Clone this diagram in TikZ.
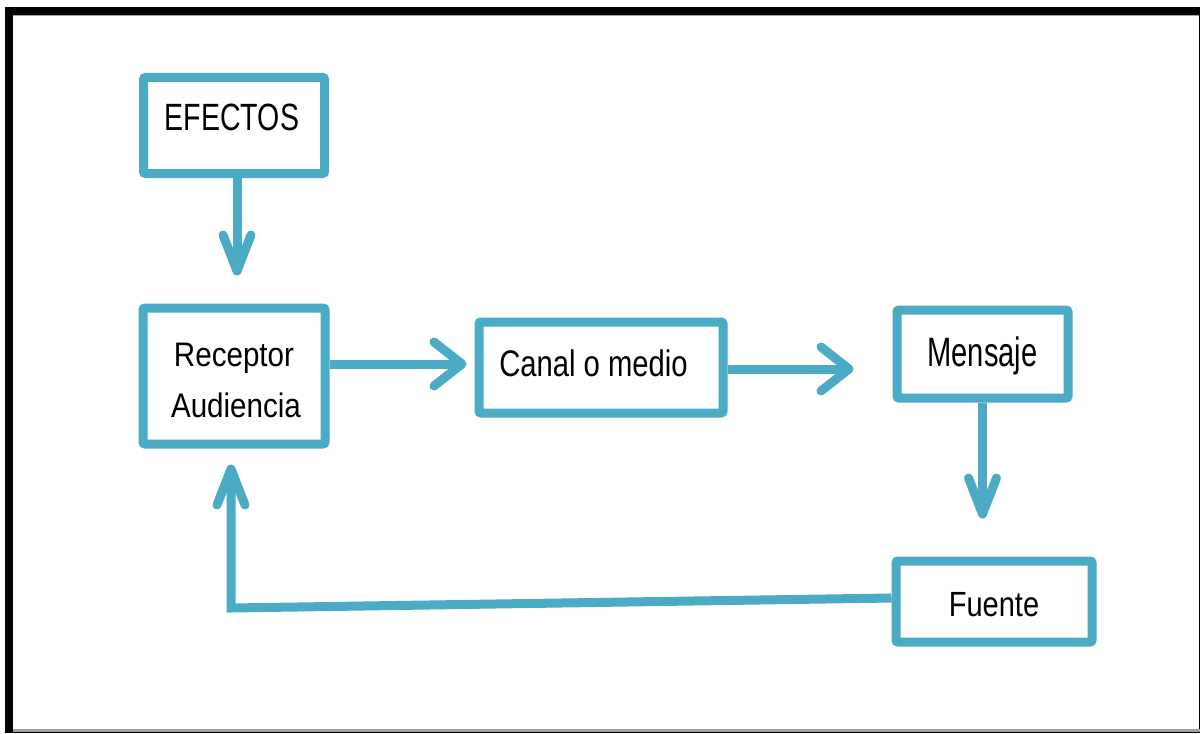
\documentclass[tikz,border=0pt]{standalone}
\usepackage{fontspec}
\usepackage{graphicx}
\setmainfont{Liberation Sans}
\usetikzlibrary{arrows.meta}
\definecolor{ac}{RGB}{75,170,196}
\newcommand{\lbl}[3]{\scalebox{#2}[1]{\fontsize{#1}{#1}\selectfont #3}}
\begin{document}
\begin{tikzpicture}[x=1pt,y=-1pt,
  box/.style={draw=ac, line width=9pt, rounded corners=2pt, fill=white, inner sep=0pt},
  txt/.style={anchor=base, inner sep=0pt, text=black},
  arrv/.style={draw=ac, line width=9pt, -{Straight Barb[length=36pt, width=28pt, round]}},
  arrh/.style={draw=ac, line width=9pt, -{Straight Barb[length=28pt, width=44pt, round]}}]
\useasboundingbox (0,0) rectangle (1201,733);
% frame
\fill[white] (0,0) rectangle (1201,733);
\fill[black] (5,7) rectangle (1200,733);
\fill[gray!70] (13,14.7) rectangle (1198.7,729);
\fill[white] (13,15.7) rectangle (1198.7,729);
\fill[gray!75] (13,729) rectangle (1200,732);
% boxes
\node[box, minimum width=181pt, minimum height=96pt] (efe) at (234,125.5) {};
\node[box, minimum width=182pt, minimum height=136pt] (rec) at (234,376) {};
\node[box, minimum width=244pt, minimum height=91pt] (can) at (601,367.5) {};
\node[box, minimum width=171pt, minimum height=88pt] (men) at (982.5,354) {};
\node[box, minimum width=196pt, minimum height=81pt] (fue) at (994,601.5) {};
% texts
\node[txt] (tefe) at (232,130) {\lbl{38}{0.75}{EFECTOS}};
\node[txt] (trec) at (234,366) {\lbl{34}{0.87}{Receptor}};
\node[txt] (taud) at (236,417) {\lbl{34}{0.87}{Audiencia}};
\node[txt] (tcan) at (593.5,376) {\lbl{37}{0.79}{Canal o medio}};
\node[txt] (tmen) at (982.5,366) {\lbl{41}{0.71}{Mensaje}};
\node[txt] (tfue) at (994,616) {\lbl{35}{0.83}{Fuente}};
% connectors
\draw[arrv] ([xshift=3pt]efe.south) -- ([xshift=3pt,yshift=28pt]rec.north);
\draw[arrh] ([yshift=12pt]rec.east) -- ([yshift=12pt,xshift=-8pt]rec.east -| can.west);
\draw[arrh] ([yshift=-1.5pt]can.east) -- ([yshift=-1.5pt,xshift=-39pt]can.east -| men.west);
\draw[arrv] (men.south) -- ([yshift=38pt]men.south |- fue.north);
\coordinate (corner) at (231,608);
\draw[arrv] ([yshift=3.5pt]fue.west) -- (corner) -- ([yshift=-16pt]corner |- rec.south);
\end{tikzpicture}
\end{document}
